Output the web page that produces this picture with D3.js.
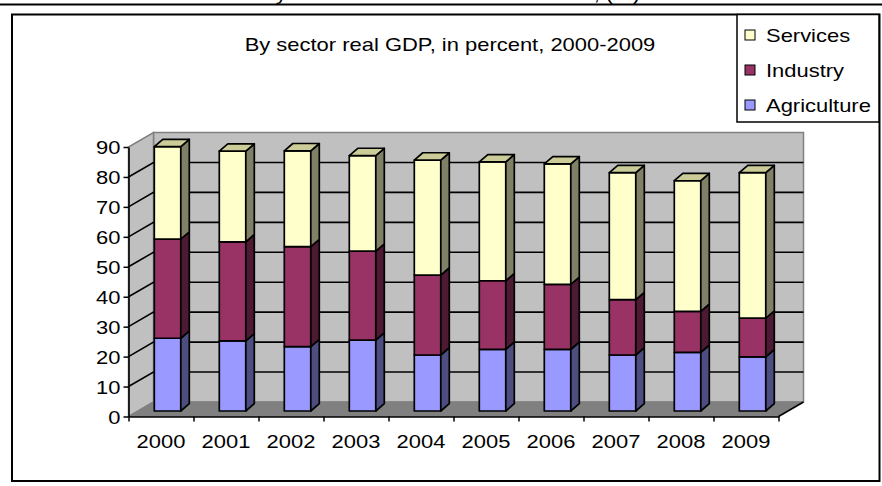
<!DOCTYPE html>
<html><head><meta charset="utf-8">
<script src="https://cdn.jsdelivr.net/npm/d3@7"></script>
<style>
body{margin:0;background:#fff}
svg{display:block}
text{font-family:"Liberation Sans",Arial,sans-serif;font-size:18px;fill:#000}
</style>
</head><body>
<svg id="c" width="882" height="486"></svg>
<script>
// ---------- data ----------
const categories = ["2000","2001","2002","2003","2004","2005","2006","2007","2008","2009"];
const seriesNames = ["Agriculture","Industry","Services"];
const agriculture = [24.3, 23.4, 21.5, 23.7, 18.7, 20.6, 20.6, 18.7, 19.6, 18.1];
const industry    = [33.1, 33.1, 33.4, 29.7, 26.7, 22.9, 21.7, 18.5, 13.7, 12.9];
const services    = [30.9, 30.3, 32.0, 31.9, 38.4, 39.7, 40.2, 42.4, 43.6, 48.6];
const yTicks = [0,10,20,30,40,50,60,70,80,90];
const gridValues = [10,20,30,40,50,60,70,80];
const legendOrder = ["Services","Industry","Agriculture"];
const chartTitle = "By sector real GDP, in percent, 2000-2009";
const cutTitle = "Armenia: shares by the three broad sectors of GDP, (%)";

// ---------- styles ----------
const colors = {
  Agriculture:{front:"#9999FF", side:"#4D4D80", top:"#CCCCFF"},
  Industry:   {front:"#993366", side:"#4D1A33", top:"#CC6699"},
  Services:   {front:"#FFFFCC", side:"#808066", top:"#CCCC99"}
};
const SX = 1.22;               // horizontal text stretch of the original
const depthX = 25, depthY = 14.5;   // floor depth
const faceOff = 25.8, faceW = 26.5, faceLift = 5.5, barDx = 8.5, barDy = 7.3;

const svg = d3.select("#c");
svg.append("rect").attr("width",882).attr("height",486).attr("fill","#fff");

// data table
const table = categories.map((c,i)=>({cat:c, Agriculture:agriculture[i], Industry:industry[i], Services:services[i]}));
const stacked = d3.stack().keys(seriesNames)(table);

// scales
const x = d3.scaleBand().domain(categories).range([128.5, 778.5]).padding(0);
const xLin = d3.scaleLinear().domain([0, categories.length]).range([128.5, 778.5]);
const y = d3.scaleLinear().domain([0, 90]).range([416.5, 147]);

// cut-off title of the upper chart (only its lowest part shows, as in the original)
svg.append("text").attr("text-anchor","end")
  .attr("transform",`translate(640,-0.5) scale(${SX},1)`).text(cutTitle);
svg.append("line").attr("x1",0).attr("x2",882).attr("y1",4.5).attr("y2",4.5)
  .attr("stroke","#000").attr("stroke-width",2);

// chart frame
svg.append("rect").attr("x",12).attr("y",14.5).attr("width",867.5).attr("height",466.5)
  .attr("fill","#fff").attr("stroke","#000").attr("stroke-width",2);

// title
svg.append("text").attr("text-anchor","middle")
  .attr("transform",`translate(450,50.5) scale(${SX},1)`).text(chartTitle);

// ---------- walls ----------
const x0 = x.range()[0], x1 = x.range()[1];
const pt = (px,py,z)=>[px + z*depthX, py - z*depthY];
const poly = pts => pts.map(p=>p.join(",")).join(" ");
const walls = svg.append("g");
walls.append("polygon").attr("points", poly([pt(x0,y(0),1),pt(x1,y(0),1),pt(x1,y(90),1),pt(x0,y(90),1)]))
  .attr("fill","#C0C0C0").attr("stroke","#808080").attr("stroke-width",1.5);
walls.append("polygon").attr("points", poly([pt(x0,y(0),0),pt(x0,y(0),1),pt(x0,y(90),1),pt(x0,y(90),0)]))
  .attr("fill","#C0C0C0").attr("stroke","#808080").attr("stroke-width",1.5);
gridValues.forEach(v=>{
  walls.append("polyline").attr("points", poly([pt(x0,y(v),0),pt(x0,y(v),1),pt(x1,y(v),1)]))
    .attr("fill","none").attr("stroke","#000").attr("stroke-width",1.6);
});
walls.append("polygon").attr("points", poly([pt(x0,y(0),0),pt(x1,y(0),0),pt(x1,y(0),1),pt(x0,y(0),1)]))
  .attr("fill","#808080").attr("stroke","#808080").attr("stroke-width",1);
walls.append("line").attr("x1",x1).attr("y1",y(0)).attr("x2",x1+depthX).attr("y2",y(0)-depthY)
  .attr("stroke","#000").attr("stroke-width",1.5);

// ---------- bars ----------
const yf = v => y(v) - faceLift;
const bars = svg.append("g").attr("stroke","#000").attr("stroke-width",1.7).attr("stroke-linejoin","round");
categories.forEach((c,i)=>{
  const xs = x(c) + faceOff;
  stacked.forEach((s,k)=>{
    const d = s[i], name = s.key, col = colors[name];
    const yb = yf(d[0]), yt = yf(d[1]);
    bars.append("rect").attr("x",xs).attr("y",yt).attr("width",faceW).attr("height",yb-yt).attr("fill",col.front);
    bars.append("polygon").attr("points", poly([[xs+faceW,yb],[xs+faceW+barDx,yb-barDy],[xs+faceW+barDx,yt-barDy],[xs+faceW,yt]]))
      .attr("fill",col.side);
    if(k === stacked.length-1){
      bars.append("polygon").attr("points", poly([[xs,yt],[xs+faceW,yt],[xs+faceW+barDx,yt-barDy],[xs+barDx,yt-barDy]]))
        .attr("fill",col.top);
    }
  });
});

// ---------- axes ----------
const yAxis = svg.append("g").attr("transform",`translate(${x0},0)`)
  .call(d3.axisLeft(y).tickValues(yTicks).tickSize(5).tickSizeOuter(0));
yAxis.attr("font-size",null).attr("font-family",null);
yAxis.select(".domain").attr("stroke","#000").attr("stroke-width",1.6);
yAxis.selectAll(".tick line").attr("stroke","#000").attr("stroke-width",1.5);
yAxis.selectAll(".tick text").attr("x",0).attr("dy",null).attr("y",6.5)
  .attr("transform",`translate(-8,0) scale(${SX},1)`).style("font-size","18px");

const xTicks = svg.append("g").attr("transform",`translate(0,${y(0)})`)
  .call(d3.axisBottom(xLin).tickValues(d3.range(0,categories.length+1)).tickSize(5).tickSizeOuter(0).tickFormat(()=>""));
xTicks.select(".domain").attr("stroke","#000").attr("stroke-width",1.6);
xTicks.selectAll(".tick line").attr("stroke","#000").attr("stroke-width",1.5);

const xLabels = svg.append("g").attr("transform",`translate(0,${y(0)})`)
  .call(d3.axisBottom(x).tickSize(0));
xLabels.attr("font-size",null).attr("font-family",null);
xLabels.select(".domain").remove();
xLabels.selectAll(".tick text").attr("y",0).attr("dy",null)
  .attr("transform",`translate(0,31.5) scale(${SX},1)`).style("font-size","18px");

// ---------- legend ----------
const lg = svg.append("g");
lg.append("rect").attr("x",737).attr("y",14.5).attr("width",142).attr("height",107.5)
  .attr("fill","#fff").attr("stroke","#000").attr("stroke-width",1.5);
legendOrder.forEach((name,i)=>{
  const cy = 35 + i*35;
  lg.append("rect").attr("x",745).attr("y",cy-5).attr("width",10).attr("height",10)
    .attr("fill",colors[name].front).attr("stroke","#000").attr("stroke-width",1);
  lg.append("text").attr("transform",`translate(766,${cy+6.5}) scale(${SX},1)`).text(name);
});
</script>
</body></html>
